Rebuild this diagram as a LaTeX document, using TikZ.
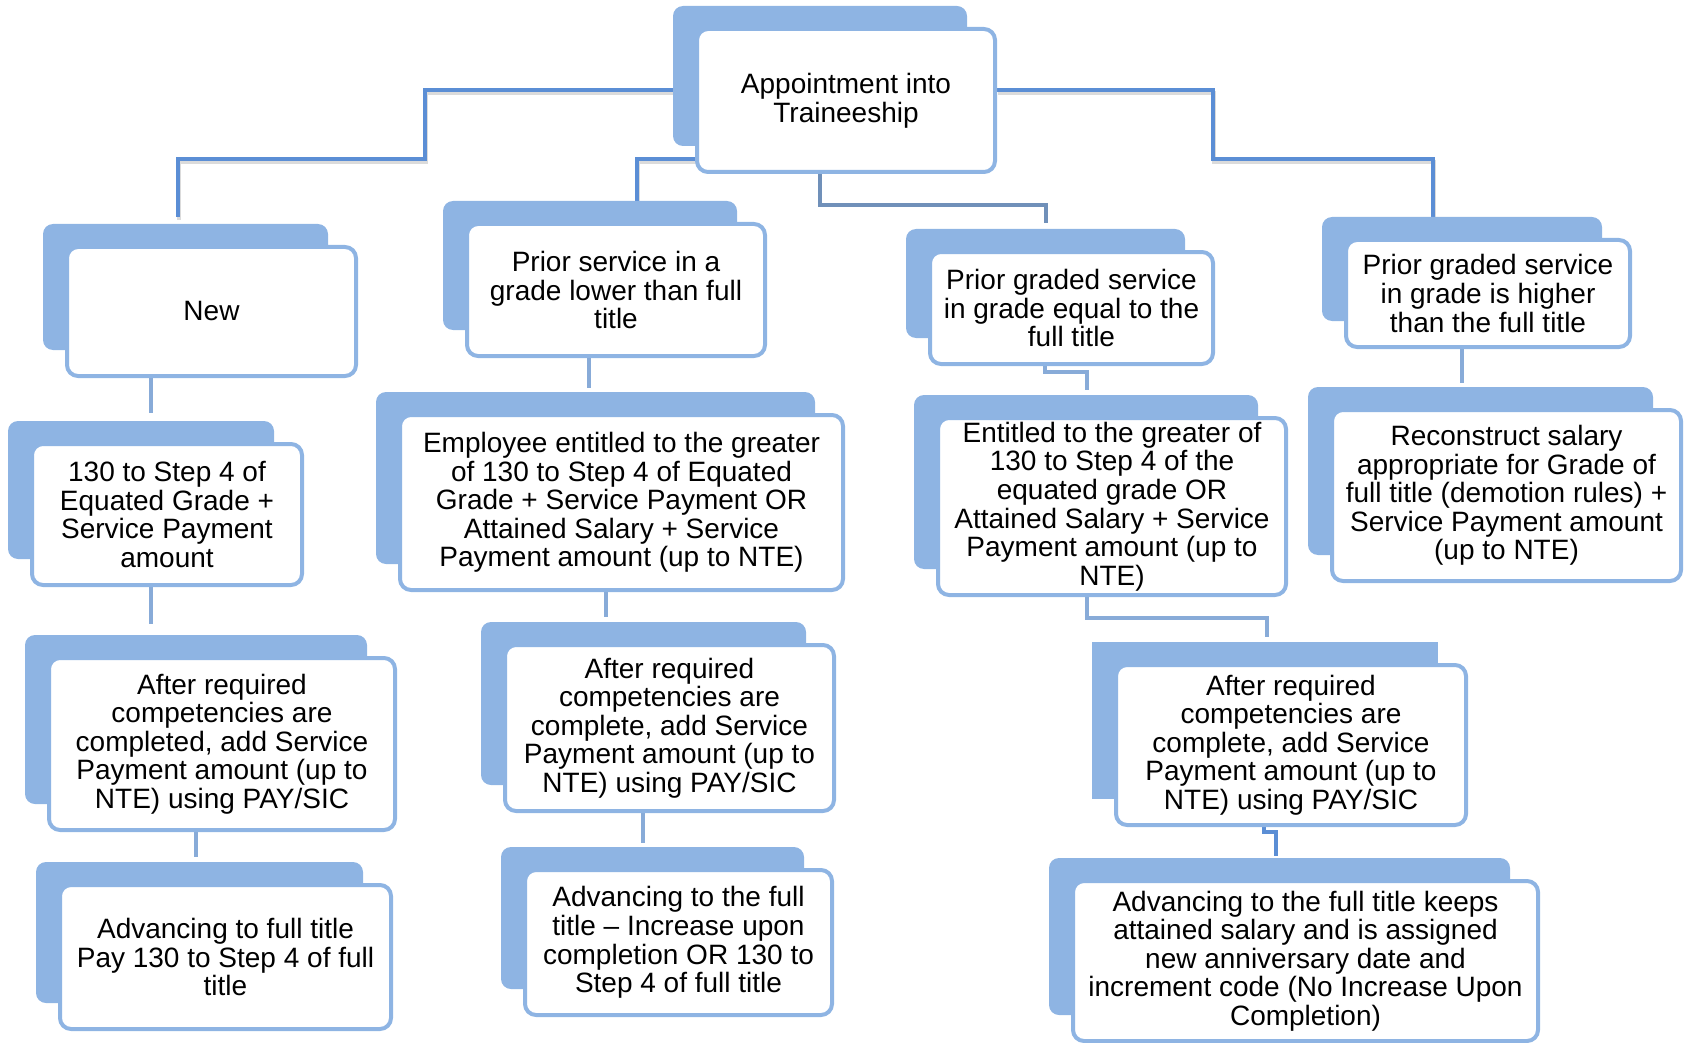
\documentclass[tikz,border=0pt]{standalone}
\usepackage{fontspec}
\setmainfont{Liberation Sans}
\usetikzlibrary{backgrounds}

\definecolor{cardblue}{HTML}{8EB4E3}
\definecolor{rootline}{HTML}{5B8ED5}
\definecolor{midline}{HTML}{7090B9}
\definecolor{subline}{HTML}{88ABD8}

\tikzset{
  cardback/.style={fill=cardblue, rounded corners=10pt},
  cardfront/.style={draw=cardblue, line width=4pt, fill=white, rounded corners=11pt,
    align=center, inner sep=0pt, text=black, font=\fontsize{28}{28.6}\selectfont},
  link/.style={line width=4pt, draw=subline},
  rootlink/.style={line width=4pt, draw=rootline,
    preaction={draw=black!14, line width=4pt, transform canvas={shift={(1pt,-3pt)}}}},
}

% \flowcard[back options]{name}{x1}{y1}{x2}{y2}{text}
% front card spans (x1,y1)-(x2,y2); the tab behind it is offset up and left
\newcommand\flowcard[7][]{%
  \pgfmathsetmacro\cardw{#5-#3-4}%
  \pgfmathsetmacro\cardh{#6-#4-4}%
  \pgfmathsetmacro\cardx{(#3+#5)/2}%
  \pgfmathsetmacro\cardy{(#4+#6)/2}%
  \fill[cardback,#1] (#3-22,#4-21) rectangle (#5-30,#6-28);
  \node[cardfront, minimum width=\cardw pt, minimum height=\cardh pt] (#2) at (\cardx,\cardy) {#7};
}

\begin{document}
\begin{tikzpicture}[x=1pt,y=-1pt]
\useasboundingbox (0,0) rectangle (1684,1043);

% top
\flowcard{root}{695}{27}{997}{174}{Appointment into\\Traineeship}

% second row
\flowcard{new}{65}{245}{358}{378}{New}
\flowcard{lower}{465}{222}{767}{358}{Prior service in a\\grade lower than full\\title}
\flowcard{equal}{928}{250}{1215}{366}{Prior graded service\\in grade equal to the\\full title}
\flowcard{higher}{1344}{238}{1632}{349}{Prior graded service\\in grade is higher\\than the full title}

% third row
\flowcard{newpay}{30}{442}{304}{587}{130 to Step 4 of\\Equated Grade +\\Service Payment\\amount}
\flowcard{lowerpay}{398}{413}{845}{592}{Employee entitled to the greater\\of 130 to Step 4 of Equated\\Grade + Service Payment OR\\Attained Salary + Service\\Payment amount (up to NTE)}
\flowcard{equalpay}{936}{416}{1288}{597}{Entitled to the greater of\\130 to Step 4 of the\\equated grade OR\\Attained Salary + Service\\Payment amount (up to\\NTE)}
\flowcard{higherpay}{1330}{408}{1683}{583}{Reconstruct salary\\appropriate for Grade of\\full title (demotion rules) +\\Service Payment amount\\(up to NTE)}

% fourth row
\flowcard{newsp}{47}{656}{397}{832}{After required\\competencies are\\completed, add Service\\Payment amount (up to\\NTE) using PAY/SIC}
\flowcard{lowersp}{503}{643}{836}{813}{After required\\competencies are\\complete, add Service\\Payment amount (up to\\NTE) using PAY/SIC}
\flowcard[sharp corners]{equalsp}{1114}{663}{1468}{827}{After required\\competencies are\\complete, add Service\\Payment amount (up to\\NTE) using PAY/SIC}

% bottom row
\flowcard{newadv}{58}{883}{393}{1031}{Advancing to full title\\Pay 130 to Step 4 of full\\title}
\flowcard{loweradv}{523}{868}{834}{1017}{Advancing to the full\\title – Increase upon\\completion OR 130 to\\Step 4 of full title}
\flowcard{equaladv}{1071}{879}{1540}{1043}{Advancing to the full title keeps\\attained salary and is assigned\\new anniversary date and\\increment code (No Increase Upon\\Completion)}

% connector ends
\coordinate (newtop) at (178,217);
\coordinate (lowertop) at (579,203);
\coordinate (equaltop) at (1046,223);
\coordinate (highertop) at (1433,219);
\coordinate (n1) at (151,413);
\coordinate (n2) at (151,624);
\coordinate (n3) at (196,857);
\coordinate (l1) at (589,388);
\coordinate (l2) at (606,617);
\coordinate (l3) at (643,843);
\coordinate (h1) at (1462,383);
\coordinate (e1a) at (1045,372);
\coordinate (e1) at (1087,390);
\coordinate (e2a) at (1087,618);
\coordinate (e2) at (1267,637);
\coordinate (e3a) at (1264,832);
\coordinate (e3) at (1276,856);

\begin{scope}[on background layer]
  \draw[rootlink] ([yshift=10.5pt]root.west) -| (425,159) -| (newtop);
  \draw[rootlink] ([yshift=-58.5pt]root.west) -| (637,203) -- (lowertop);
  \draw[link, draw=midline] ([xshift=-26pt]root.south) |- (1046,205) -- (equaltop);
  \draw[rootlink] ([yshift=10.5pt]root.east) -| (1213,159) -| (highertop);

  \draw[link] (n1 |- new.south) -- (n1);
  \draw[link] (n2 |- newpay.south) -- (n2);
  \draw[link] (n3 |- newsp.south) -- (n3);
  \draw[link] (l1 |- lower.south) -- (l1);
  \draw[link] (l2 |- lowerpay.south) -- (l2);
  \draw[link] (l3 |- lowersp.south) -- (l3);
  \draw[link] (h1 |- higher.south) -- (h1);
  \draw[link] (e1a |- equal.south) -- (e1a) -| (e1);
  \draw[link] (e2a |- equalpay.south) -- (e2a) -| (e2);
  \draw[link, draw=rootline] (e3a |- equalsp.south) -- (e3a) -| (e3);
\end{scope}
\end{tikzpicture}
\end{document}
